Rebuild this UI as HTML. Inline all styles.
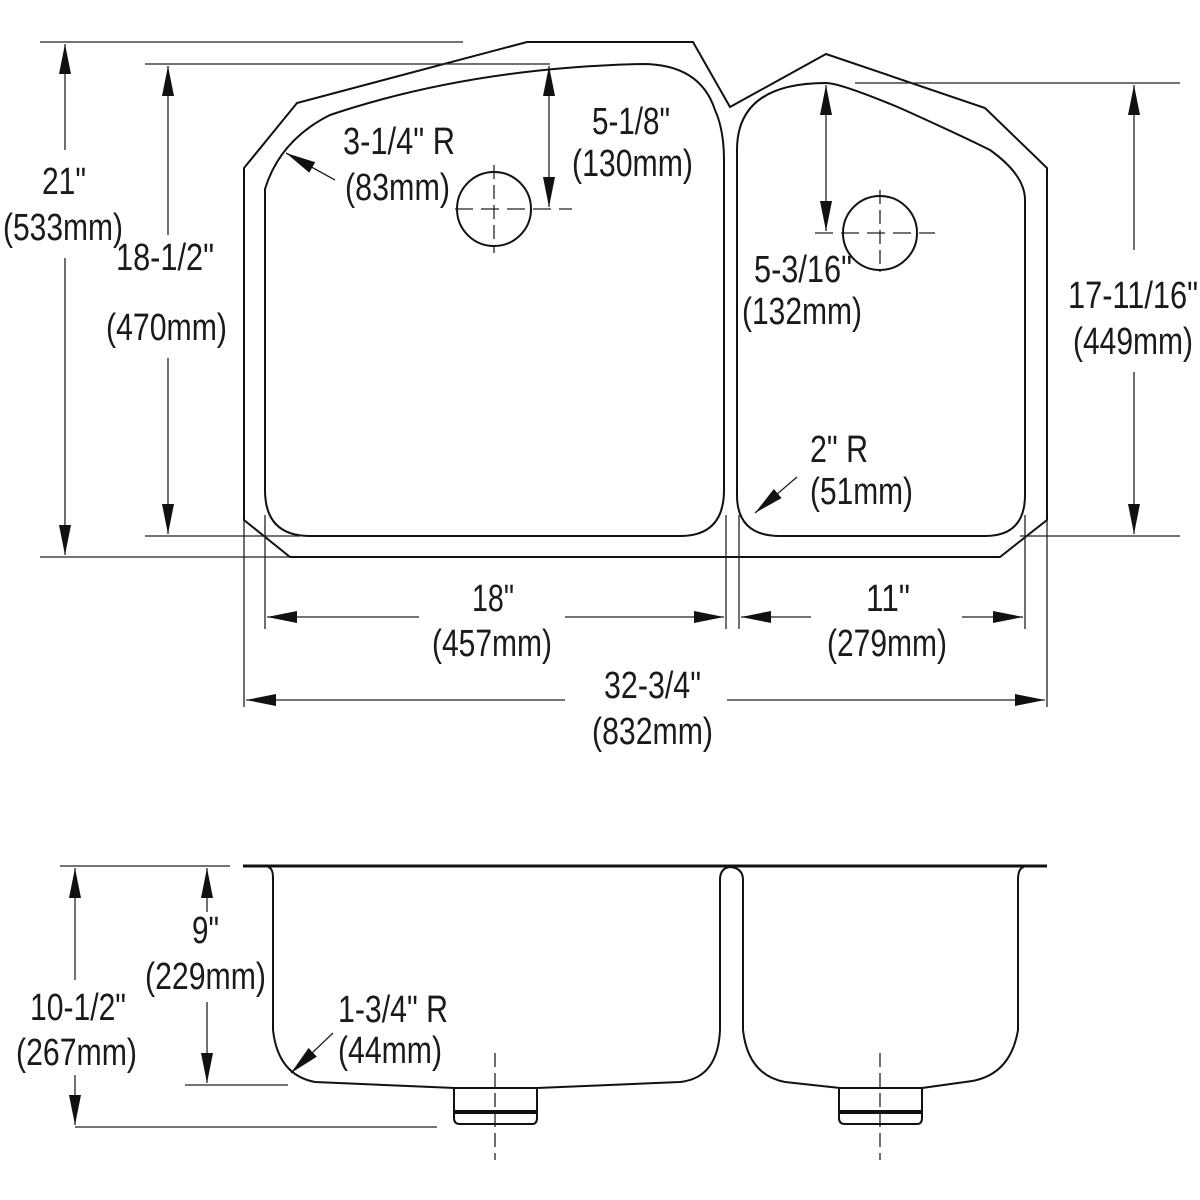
<!DOCTYPE html>
<html><head><meta charset="utf-8"><style>
html,body{margin:0;padding:0;background:#fff;}
svg{display:block;}
text{font-family:"Liberation Sans Narrow","Liberation Sans",sans-serif;font-size:38px;fill:#1a1a1a;}
</style></head><body>
<svg width="1200" height="1200" viewBox="0 0 1200 1200" xmlns="http://www.w3.org/2000/svg">
<defs>
<marker id="a" viewBox="0 0 30 12" refX="30" refY="6" markerWidth="30" markerHeight="12" markerUnits="userSpaceOnUse" orient="auto">
<path d="M0,0 L30,6 L0,12 Z" fill="#111"/></marker>
</defs>
<g fill="none" stroke="#111" stroke-width="2">
<path d="M244,168 L297,103 L527,42 L693,42 L730,107 L826,54 L985,108 L1047,168 L1047,520 L1000,557 L290,557 L244,520 Z"/>
<path d="M265,189 Q280,140 330,115 Q470,68 642,64 Q700,64 715,110 Q724,130 724,160 L724,490 Q724,536 680,536 L310,536 Q265,536 265,490 Z"/>
<path d="M737,150 Q737,83 826,83 Q840,83 900,108 Q960,135 990,150 Q1025,175 1025,200 L1025,495 Q1025,536 985,536 L780,536 Q737,536 737,495 Z"/>
<circle cx="494" cy="209" r="37"/>
<circle cx="880" cy="233" r="37"/>
</g>
<g fill="none" stroke="#222" stroke-width="1.3">
<line x1="40" y1="42" x2="463" y2="42"/>
<line x1="40" y1="557" x2="290" y2="557"/>
<line x1="145" y1="64" x2="550" y2="64"/>
<line x1="145" y1="536" x2="300" y2="536"/>
<line x1="855" y1="83" x2="1180" y2="83"/>
<line x1="1020" y1="536" x2="1180" y2="536"/>
<line x1="244" y1="520" x2="244" y2="707"/>
<line x1="265" y1="515" x2="265" y2="629"/>
<line x1="726" y1="515" x2="726" y2="629"/>
<line x1="739" y1="515" x2="739" y2="629"/>
<line x1="1025" y1="515" x2="1025" y2="629"/>
<line x1="1047" y1="520" x2="1047" y2="707"/>
<line x1="455" y1="209" x2="572" y2="209" stroke-dasharray="18,8"/>
<line x1="494" y1="165" x2="494" y2="253" stroke-dasharray="14,6"/>
<line x1="815" y1="233" x2="935" y2="233" stroke-dasharray="18,8"/>
<line x1="880" y1="190" x2="880" y2="272" stroke-dasharray="14,6"/>
<line x1="65" y1="150" x2="65" y2="44" marker-end="url(#a)"/>
<line x1="65" y1="258" x2="65" y2="555" marker-end="url(#a)"/>
<line x1="168" y1="235" x2="168" y2="66" marker-end="url(#a)"/>
<line x1="168" y1="358" x2="168" y2="534" marker-end="url(#a)"/>
<line x1="549" y1="140" x2="549" y2="66" marker-end="url(#a)"/>
<line x1="549" y1="140" x2="549" y2="207" marker-end="url(#a)"/>
<line x1="826" y1="160" x2="826" y2="85" marker-end="url(#a)"/>
<line x1="826" y1="160" x2="826" y2="231" marker-end="url(#a)"/>
<line x1="1134" y1="250" x2="1134" y2="85" marker-end="url(#a)"/>
<line x1="1134" y1="372" x2="1134" y2="534" marker-end="url(#a)"/>
<line x1="419" y1="617" x2="267" y2="617" marker-end="url(#a)"/>
<line x1="565" y1="617" x2="724" y2="617" marker-end="url(#a)"/>
<line x1="811" y1="617" x2="741" y2="617" marker-end="url(#a)"/>
<line x1="962" y1="617" x2="1023" y2="617" marker-end="url(#a)"/>
<line x1="565" y1="700" x2="246" y2="700" marker-end="url(#a)"/>
<line x1="727" y1="700" x2="1045" y2="700" marker-end="url(#a)"/>
<line x1="335" y1="180" x2="286" y2="153" marker-end="url(#a)"/>
<line x1="797" y1="477" x2="755" y2="513" marker-end="url(#a)"/>
<line x1="333" y1="1033" x2="291" y2="1073" marker-end="url(#a)"/>
<line x1="60" y1="866" x2="230" y2="866"/>
<line x1="75" y1="1127" x2="437" y2="1127"/>
<line x1="185" y1="1085" x2="288" y2="1085"/>
<line x1="75" y1="980" x2="75" y2="868" marker-end="url(#a)"/>
<line x1="75" y1="1075" x2="75" y2="1125" marker-end="url(#a)"/>
<line x1="207" y1="912" x2="207" y2="868" marker-end="url(#a)"/>
<line x1="207" y1="1002" x2="207" y2="1083" marker-end="url(#a)"/>
<line x1="495" y1="1053" x2="495" y2="1160" stroke-dasharray="14,6"/>
<line x1="880" y1="1053" x2="880" y2="1160" stroke-dasharray="14,6"/>
</g>
<g fill="none" stroke="#111" stroke-width="2">
<line x1="243" y1="866" x2="1047" y2="866" stroke-width="3"/>
<path d="M268,867 Q273,868 273,878 L273,1030 Q278,1075 315,1082 L455,1088 L537,1088 L680,1082 Q718,1078 720,1030 L720,880 Q720,868 730,867 Q743,868 743,880 L743,1030 Q748,1075 785,1082 L840,1088 L922,1088 L965,1082 Q1010,1078 1018,1030 L1018,880 Q1018,868 1024,867"/>
<path d="M454,1088 L454,1118 Q454,1124 460,1124 L532,1124 Q537,1124 537,1118 L537,1088"/>
<line x1="454" y1="1112" x2="537" y2="1112" stroke-width="4"/>
<path d="M839,1088 L839,1118 Q839,1124 845,1124 L917,1124 Q922,1124 922,1118 L922,1088"/>
<line x1="839" y1="1112" x2="922" y2="1112" stroke-width="4"/>
</g>
<g>
<text x="42" y="194" textLength="44" lengthAdjust="spacingAndGlyphs">21"</text>
<text x="3" y="240" textLength="120" lengthAdjust="spacingAndGlyphs">(533mm)</text>
<text x="116" y="270" textLength="98" lengthAdjust="spacingAndGlyphs">18-1/2"</text>
<text x="106" y="340" textLength="121" lengthAdjust="spacingAndGlyphs">(470mm)</text>
<text x="343" y="154" textLength="112" lengthAdjust="spacingAndGlyphs">3-1/4" R</text>
<text x="345" y="200" textLength="105" lengthAdjust="spacingAndGlyphs">(83mm)</text>
<text x="592" y="134" textLength="78" lengthAdjust="spacingAndGlyphs">5-1/8"</text>
<text x="572" y="176" textLength="121" lengthAdjust="spacingAndGlyphs">(130mm)</text>
<text x="754" y="282" textLength="98" lengthAdjust="spacingAndGlyphs">5-3/16"</text>
<text x="742" y="324" textLength="120" lengthAdjust="spacingAndGlyphs">(132mm)</text>
<text x="1068" y="308" textLength="130" lengthAdjust="spacingAndGlyphs">17-11/16"</text>
<text x="1073" y="354" textLength="120" lengthAdjust="spacingAndGlyphs">(449mm)</text>
<text x="810" y="462" textLength="58" lengthAdjust="spacingAndGlyphs">2" R</text>
<text x="810" y="504" textLength="103" lengthAdjust="spacingAndGlyphs">(51mm)</text>
<text x="472" y="611" textLength="42" lengthAdjust="spacingAndGlyphs">18"</text>
<text x="432" y="656" textLength="120" lengthAdjust="spacingAndGlyphs">(457mm)</text>
<text x="866" y="611" textLength="44" lengthAdjust="spacingAndGlyphs">11"</text>
<text x="827" y="656" textLength="120" lengthAdjust="spacingAndGlyphs">(279mm)</text>
<text x="604" y="698" textLength="97" lengthAdjust="spacingAndGlyphs">32-3/4"</text>
<text x="592" y="744" textLength="121" lengthAdjust="spacingAndGlyphs">(832mm)</text>
<text x="192" y="943" textLength="27" lengthAdjust="spacingAndGlyphs">9"</text>
<text x="145" y="989" textLength="121" lengthAdjust="spacingAndGlyphs">(229mm)</text>
<text x="30" y="1020" textLength="96" lengthAdjust="spacingAndGlyphs">10-1/2"</text>
<text x="16" y="1065" textLength="121" lengthAdjust="spacingAndGlyphs">(267mm)</text>
<text x="338" y="1022" textLength="110" lengthAdjust="spacingAndGlyphs">1-3/4" R</text>
<text x="338" y="1063" textLength="104" lengthAdjust="spacingAndGlyphs">(44mm)</text>
</g>
</svg>
</body></html>
